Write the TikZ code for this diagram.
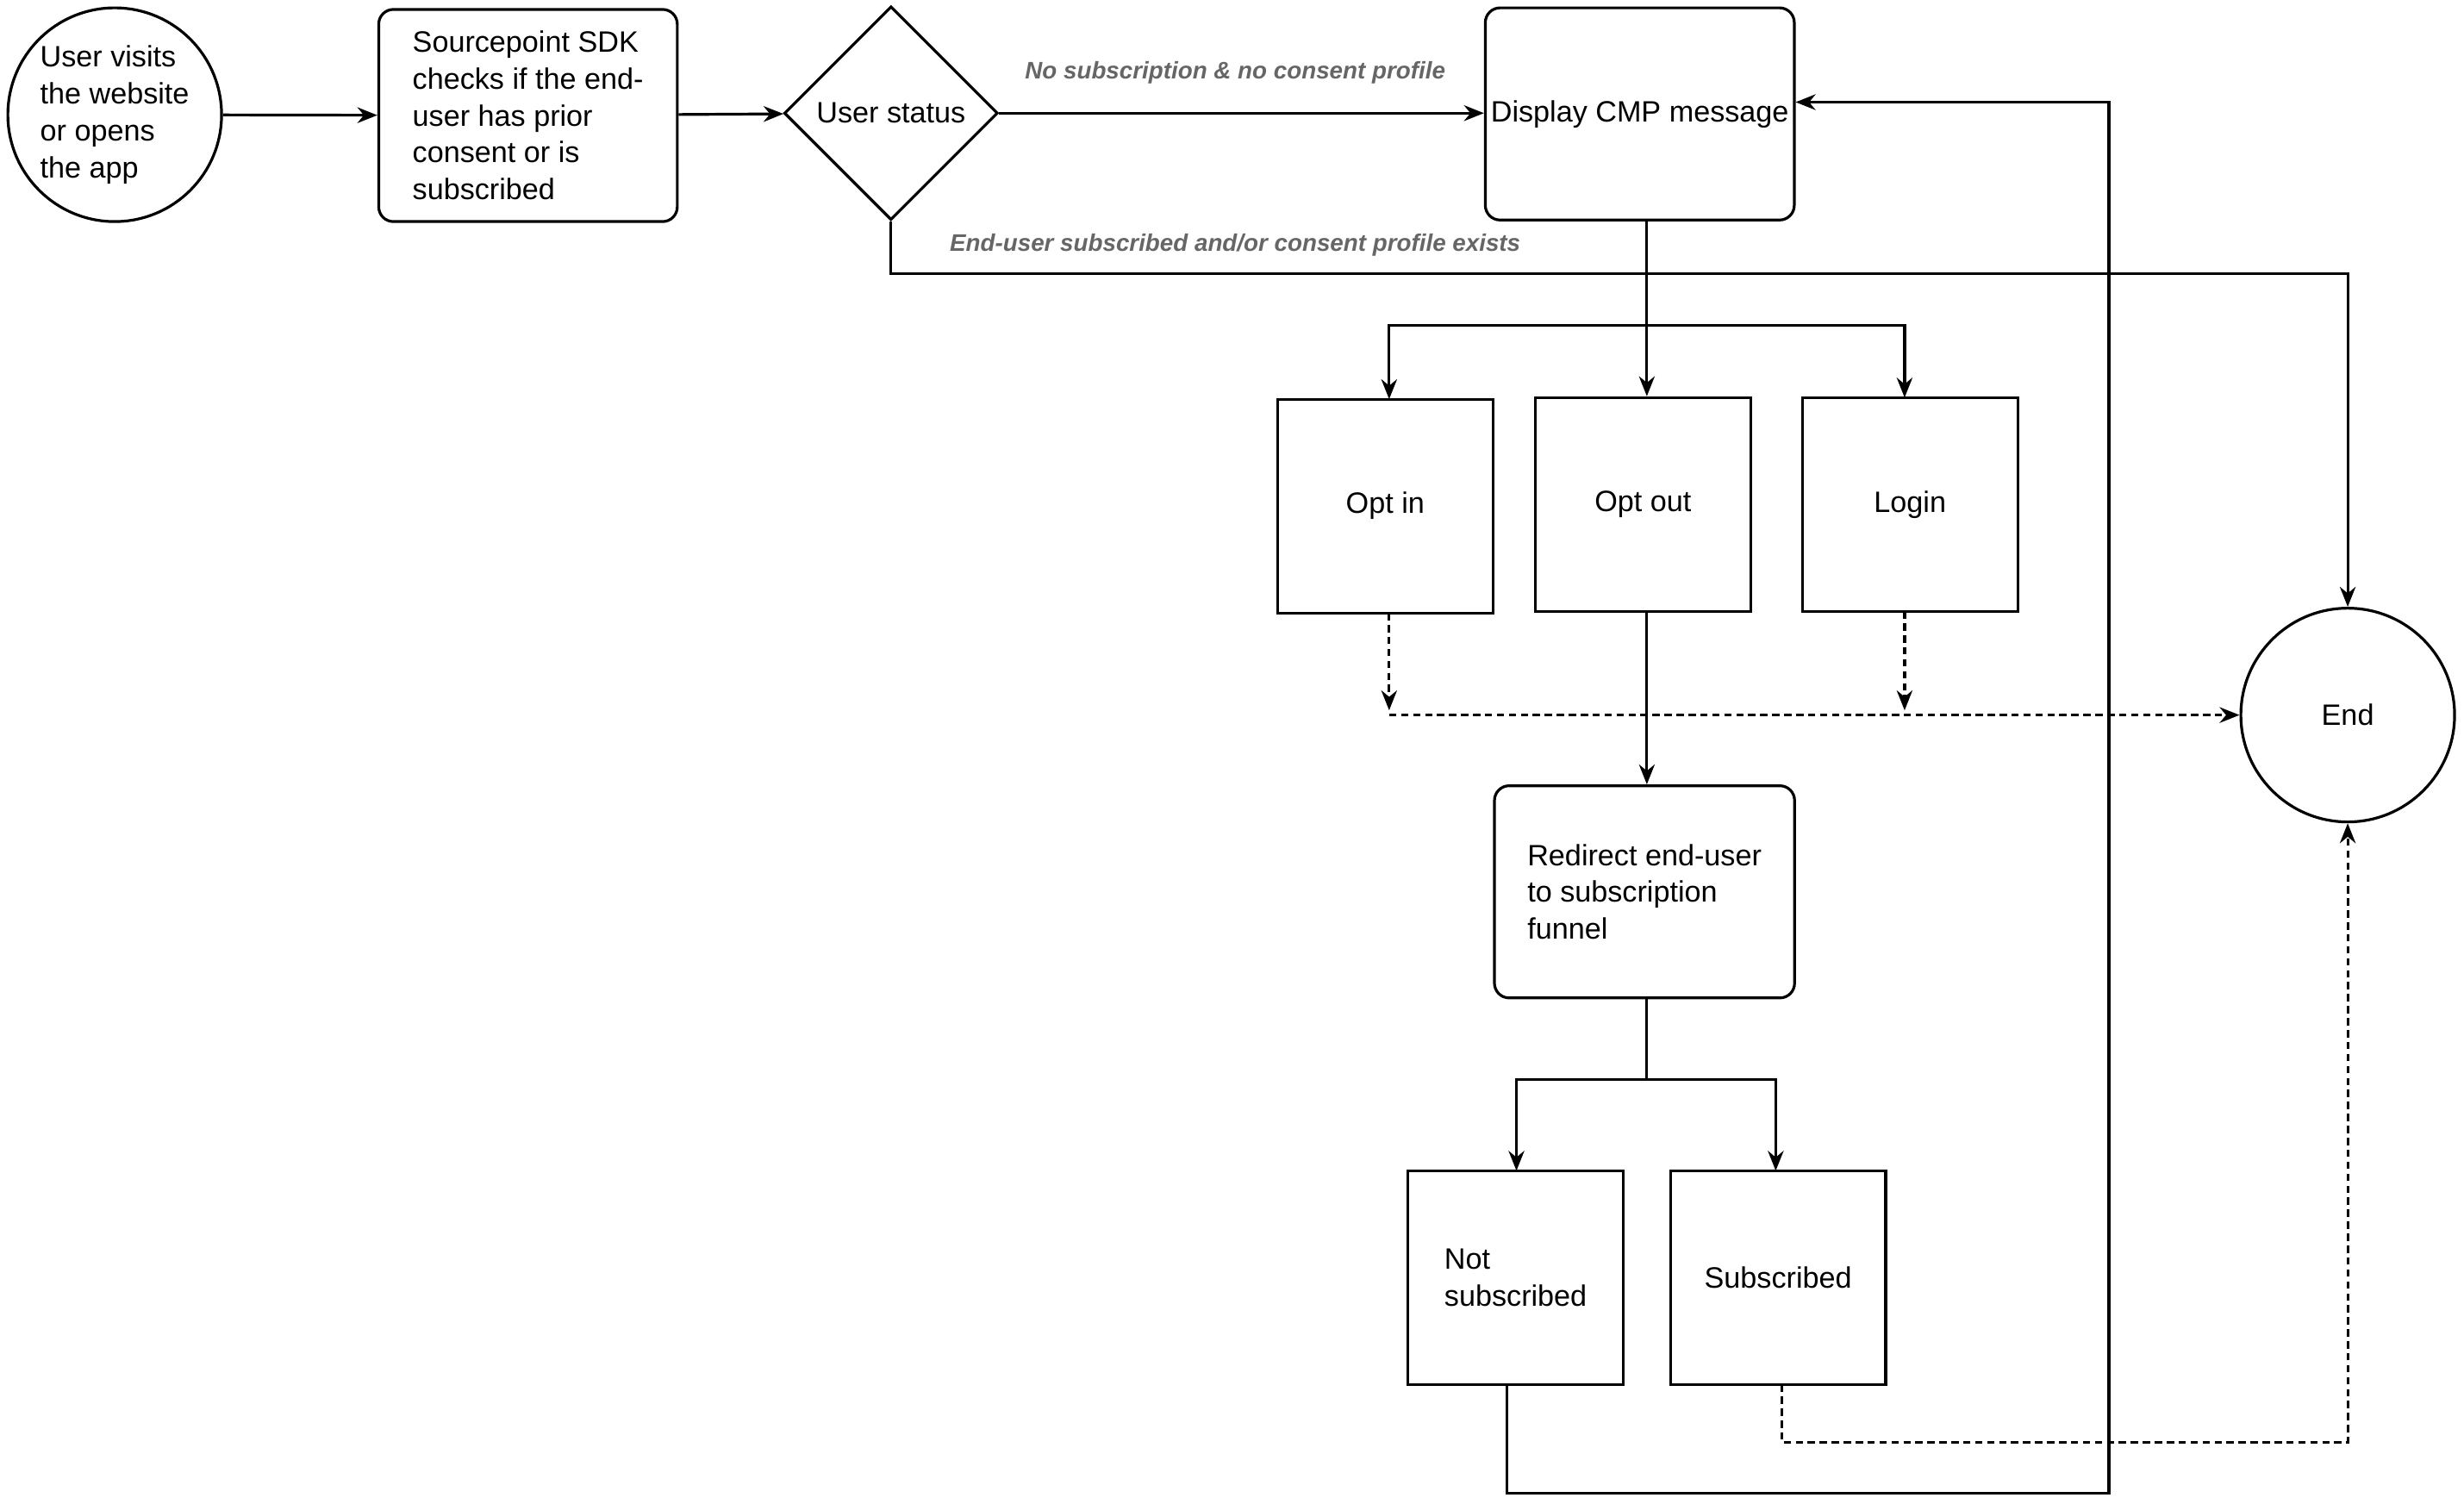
\documentclass[tikz,border=0pt]{standalone}
\usepackage{fontspec}
\setmainfont{Liberation Sans}
\usetikzlibrary{shapes.geometric,arrows.meta}
\begin{document}
\begin{tikzpicture}[x=0.03cm,y=-0.03cm,
  every node/.style={font=\fontsize{16}{20}\selectfont},
  box/.style={draw,line width=1.5pt,minimum width=4.11cm,minimum height=4.08cm,align=left,inner sep=3pt},
  rbox/.style={box,rounded corners=8pt,minimum width=5.73cm,minimum height=4.05cm},
  circ/.style={draw,circle,line width=1.5pt,minimum size=4.08cm,align=left,inner sep=0pt},
  lab/.style={font=\fontsize{13}{15}\selectfont\bfseries\itshape,text=black!60},
  arr/.style={line width=1.5pt,-{Stealth[length=0.38cm,width=0.3cm]}},
  ln/.style={line width=1.5pt},
  arrd/.style={arr,dash pattern=on 4pt off 2.5pt},
  lnd/.style={ln,dash pattern=on 4pt off 2.5pt}]
\useasboundingbox (0,0) rectangle (1568,957);
\node[circ] (start) at (73,73) {User visits\\the website\\or opens\\the app};
\node[rbox,minimum width=5.7cm] (sdk) at (336,73.5) {Sourcepoint SDK\\checks if the end-\\user has prior\\consent or is\\subscribed};
\node[draw,diamond,aspect=1,line width=1.5pt,minimum size=4.08cm,inner sep=0pt] (dia) at (567,72) {User status};
\node[rbox] (cmp) at (1043.5,72.5) {Display CMP message};
\node[box] (optin) at (881.5,322) {Opt in};
\node[box] (optout) at (1045.5,321) {Opt out};
\node[box] (login) at (1215.5,321) {Login};
\node[circ,align=center] (end) at (1494,455) {End};
\node[rbox] (redir) at (1046.5,567.5) {Redirect end-user\\to subscription\\funnel};
\node[box] (notsub) at (964.5,813) {Not\\subscribed};
\node[box] (sub) at (1131.5,813) {Subscribed};
\draw[arr] (start) -- (sdk);
\draw[arr] (sdk) -- (dia);
\draw[arr] (dia.east) -- (dia.east -| cmp.west);
\node[lab] (l1) at (786,46) {No subscription \& no consent profile};
\coordinate (c1) at (1494,174);
\draw[arr] (dia.south) |- (c1) -- (end.north);
\node[lab] (l2) at (786,156) {End-user subscribed and/or consent profile exists};
\coordinate (split) at (1048,207);
\draw[ln] (cmp.south -| split) -- (split);
\draw[arr] (split) -| (884,254);
\draw[arr] (split) -| (1212,253);
\draw[arr] (split) -- (split |- optout.north);
\draw[arr] (optout.south -| split) -- (redir.north -| split);
\draw[arrd] (884,390) -- (884,452);
\draw[arrd] (1212,389) -- (1212,452);
\draw[arrd] (884,455) -- (end.west);
\coordinate (split2) at (1048,687);
\draw[ln] (redir.south -| split2) -- (split2);
\draw[arr] (split2) -| (965,745);
\draw[arr] (split2) -| (1130,745);
\coordinate (c2) at (1342,950);
\draw[arr] (959,881) |- (c2) |- ([yshift=0.225cm]cmp.east);
\coordinate (c3) at (1494,918);
\draw[arrd] (1134,881) |- (c3) -- (end.south);
\end{tikzpicture}
\end{document}
